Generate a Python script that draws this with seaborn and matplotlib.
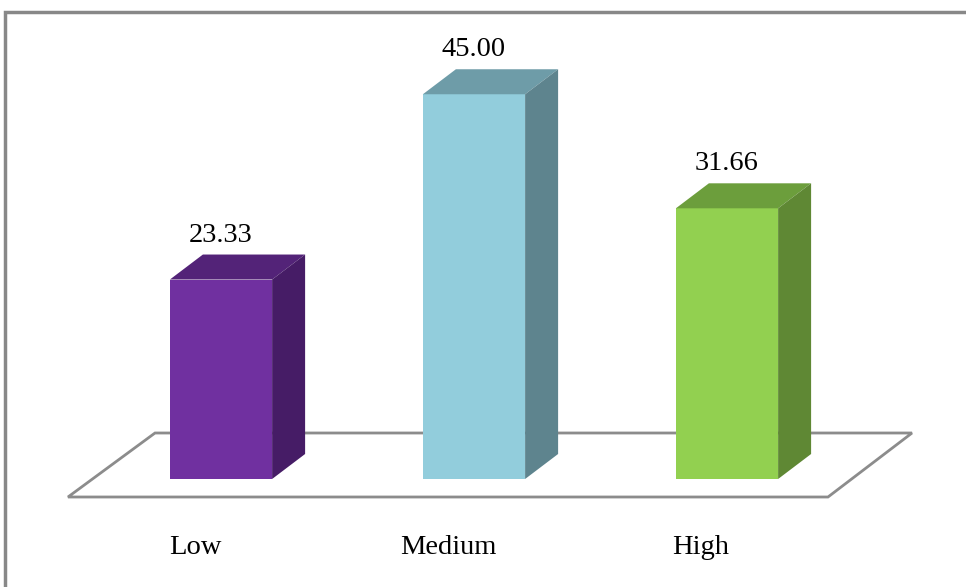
import matplotlib
matplotlib.use("Agg")
import matplotlib.pyplot as plt
import seaborn as sns
import pandas as pd
from matplotlib.patches import Polygon, Rectangle

categories = ["Low", "Medium", "High"]
values = [23.33, 45.00, 31.66]
value_labels = ["23.33", "45.00", "31.66"]

front_colors = ["#7030A0", "#92CDDC", "#92D050"]
top_colors = ["#532378", "#6E9CA8", "#6C9E3C"]
side_colors = ["#461C66", "#5E848E", "#5F8834"]

sns.set_theme(style="white")
plt.rcParams["font.family"] = ["Liberation Serif", "DejaVu Serif"]

W, H = 966, 587
fig = plt.figure(figsize=(W / 100, H / 100), dpi=100)
ax = fig.add_axes([0, 0, 1, 1])

# pixel geometry -> data scaling
x0_px, unit_x = 221.0, 253.0          # category 0 centre, px per category
y0_px, unit_y = 479.0, 8.55           # value 0 (from top), px per value unit
ax.set_xlim((0 - x0_px) / unit_x, (W - x0_px) / unit_x)
ax.set_ylim(-(H - y0_px) / unit_y, y0_px / unit_y)
ax.set_axis_off()

def px(x, y):
    return ((x - x0_px) / unit_x, (y0_px - y) / unit_y)

# floor
floor = Polygon([px(155, 433), px(912, 433), px(828, 497), px(68, 497)],
                closed=True, facecolor="white", edgecolor="#8C8C8C", lw=2, zorder=1)
ax.add_patch(floor)

df = pd.DataFrame({"category": categories, "value": values})
sns.barplot(data=df, x="category", y="value", hue="category",
            palette=front_colors, width=0.404, dodge=False, legend=False,
            saturation=1, ax=ax, zorder=3, linewidth=0)
ax.set_xlim((0 - x0_px) / unit_x, (W - x0_px) / unit_x)
ax.set_ylim(-(H - y0_px) / unit_y, y0_px / unit_y)
ax.set_axis_off()

dx = 33 / unit_x
dy = 25 / unit_y
for i, p in enumerate(ax.patches[1:] if isinstance(ax.patches[0], Polygon) else ax.patches):
    if not isinstance(p, Rectangle):
        continue
    x, w, h = p.get_x(), p.get_width(), p.get_height()
    top = Polygon([(x, h), (x + w, h), (x + w + dx, h + dy), (x + dx, h + dy)],
                  closed=True, facecolor=top_colors[i], edgecolor="none", zorder=3)
    side = Polygon([(x + w, 0), (x + w + dx, dy), (x + w + dx, h + dy), (x + w, h)],
                   closed=True, facecolor=side_colors[i], edgecolor="none", zorder=3)
    ax.add_patch(top)
    ax.add_patch(side)
    ax.text(x + w / 2, h + 38 / unit_y, value_labels[i], ha="center", va="baseline",
            fontsize=20.5, color="black", zorder=5)

for i, c in enumerate(categories):
    ax.text(i - 26 / unit_x, -75 / unit_y, c, ha="center", va="baseline",
            fontsize=20.5, color="black", zorder=5)

# outer chart border
fig.patches.append(Rectangle((5 / W, -0.1), 1.2, (H - 12) / H + 0.1,
                             transform=fig.transFigure, fill=False,
                             edgecolor="#888888", lw=2.5))

fig.savefig("out.png", dpi=100)
